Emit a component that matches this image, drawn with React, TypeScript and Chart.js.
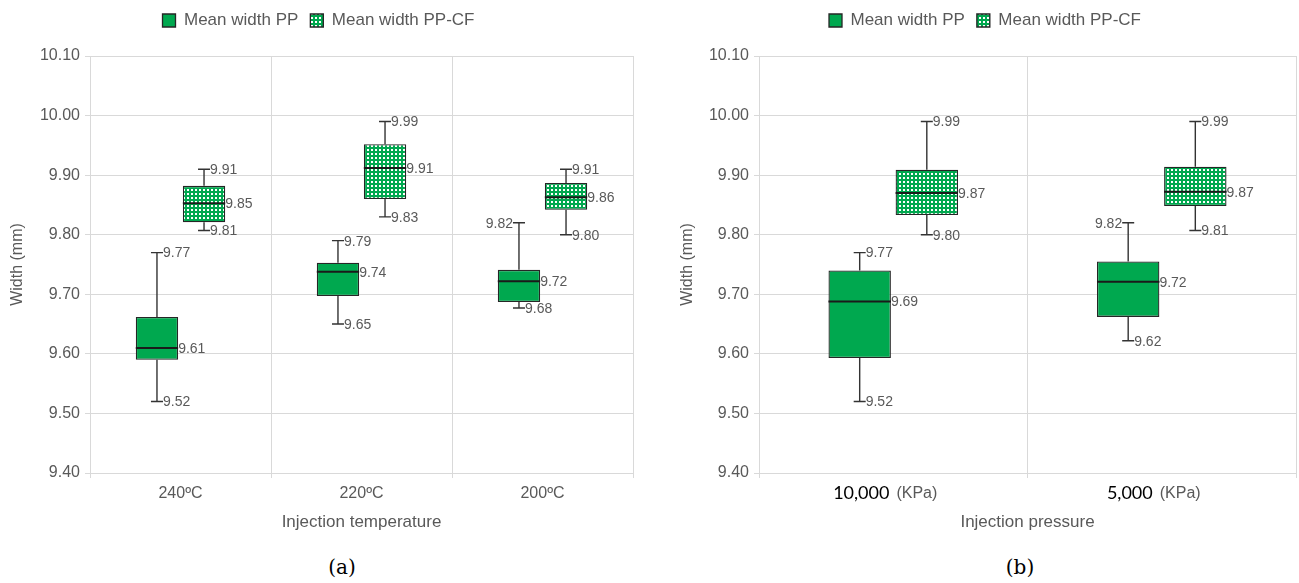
import React, { useEffect, useRef } from "react";
import { Chart, registerables } from "chart.js";

Chart.register(...registerables);

// ---------------- DATA ----------------
const seriesNames = ["Mean width PP", "Mean width PP-CF"];

// (a) Injection temperature
const tempCategories = ["240ºC", "220ºC", "200ºC"];
const tempPPMin = [9.52, 9.65, 9.677];
const tempPPQ1 = [9.59, 9.697, 9.687];
const tempPPMedian = [9.61, 9.738, 9.722];
const tempPPQ3 = [9.662, 9.753, 9.741];
const tempPPMax = [9.77, 9.79, 9.82];

const tempCFMin = [9.807, 9.83, 9.8];
const tempCFQ1 = [9.821, 9.86, 9.842];
const tempCFMedian = [9.853, 9.912, 9.863];
const tempCFQ3 = [9.882, 9.952, 9.887];
const tempCFMax = [9.91, 9.99, 9.91];

// (b) Injection pressure
const pressCategories = ["10,000", "5,000"];
const pressUnit = "(KPa)";
const pressPPMin = [9.52, 9.622];
const pressPPQ1 = [9.593, 9.662];
const pressPPMedian = [9.688, 9.721];
const pressPPQ3 = [9.74, 9.755];
const pressPPMax = [9.77, 9.82];

const pressCFMin = [9.8, 9.807];
const pressCFQ1 = [9.833, 9.848];
const pressCFMedian = [9.87, 9.872];
const pressCFQ3 = [9.909, 9.914];
const pressCFMax = [9.99, 9.99];

const yTickMin = 9.4;
const yTickMax = 10.1;
const yTickStep = 0.1;

// ---------------- STYLE ----------------
const GREEN = "#00a84f";
const BORDER = "#262626";
const TEXT = "#595959";
const GRID = "#d9d9d9";
const SANS = "'Liberation Sans', Arial, sans-serif";

type BoxSeries = {
  name: string;
  min: number[];
  q1: number[];
  median: number[];
  q3: number[];
  max: number[];
  patterned: boolean;
};

function makePattern(): CanvasPattern | string {
  const c = document.createElement("canvas");
  c.width = 4;
  c.height = 4;
  const g = c.getContext("2d");
  if (!g) return GREEN;
  g.fillStyle = GREEN;
  g.fillRect(0, 0, 4, 4);
  g.fillStyle = "#ffffff";
  g.fillRect(1, 1, 2, 2);
  return g.createPattern(c, "repeat") || GREEN;
}

type PanelProps = {
  categories: string[];
  series: BoxSeries[];
  xTitle: string;
  left: number;
  width: number;
  height: number;
  padLeft: number;
  padRight: number;
  yWidth: number;
  catPct: number;
  barPct: number;
  maxLabelLeft: boolean[][];
  unit?: string;
};

function BoxPanel(props: PanelProps) {
  const ref = useRef<HTMLCanvasElement | null>(null);
  useEffect(() => {
    const canvas = ref.current;
    if (!canvas) return;
    const pattern = makePattern();
    const customTicks = !!props.unit;

    const datasets = props.series.map((s) => ({
      label: s.name,
      data: s.q1.map((q, i) => [q, s.q3[i]]),
      backgroundColor: s.patterned ? pattern : GREEN,
      borderColor: BORDER,
      borderWidth: 1.3,
      borderSkipped: false as const,
      categoryPercentage: props.catPct,
      barPercentage: props.barPct,
    }));

    const boxPlugin = {
      id: "boxWhiskers",
      afterDatasetsDraw(chart: any) {
        const ctx = chart.ctx as CanvasRenderingContext2D;
        const y = chart.scales.y;
        props.series.forEach((s, di) => {
          const meta = chart.getDatasetMeta(di);
          meta.data.forEach((bar: any, i: number) => {
            const cx = bar.x;
            const hw = bar.width / 2;
            const yMin = y.getPixelForValue(s.min[i]);
            const yQ1 = y.getPixelForValue(s.q1[i]);
            const yMed = y.getPixelForValue(s.median[i]);
            const yQ3 = y.getPixelForValue(s.q3[i]);
            const yMax = y.getPixelForValue(s.max[i]);
            ctx.save();
            ctx.strokeStyle = "#333333";
            ctx.lineWidth = 1.4;
            ctx.beginPath();
            ctx.moveTo(cx, yQ3);
            ctx.lineTo(cx, yMax);
            ctx.moveTo(cx - 6, yMax);
            ctx.lineTo(cx + 6, yMax);
            ctx.moveTo(cx, yQ1);
            ctx.lineTo(cx, yMin);
            ctx.moveTo(cx - 6, yMin);
            ctx.lineTo(cx + 6, yMin);
            ctx.stroke();
            ctx.strokeStyle = "#1a1a1a";
            ctx.lineWidth = 2;
            ctx.beginPath();
            ctx.moveTo(cx - hw, yMed);
            ctx.lineTo(cx + hw, yMed);
            ctx.stroke();

            ctx.fillStyle = TEXT;
            ctx.font = `14px ${SANS}`;
            ctx.textBaseline = "middle";
            const leftMax = props.maxLabelLeft[di][i];
            if (leftMax) {
              ctx.textAlign = "right";
              ctx.fillText(s.max[i].toFixed(2), cx - 6, yMax + 1);
            } else {
              ctx.textAlign = "left";
              ctx.fillText(s.max[i].toFixed(2), cx + 6, yMax + 1);
            }
            ctx.textAlign = "left";
            ctx.fillText(s.median[i].toFixed(2), cx + hw, yMed + 1);
            ctx.fillText(s.min[i].toFixed(2), cx + 6, yMin + 1);
            ctx.restore();
          });
        });
      },
      afterDraw(chart: any) {
        if (!customTicks) return;
        const ctx = chart.ctx as CanvasRenderingContext2D;
        const x = chart.scales.x;
        const yPos = chart.chartArea.bottom + 20;
        ctx.save();
        ctx.textBaseline = "middle";
        ctx.textAlign = "left";
        props.categories.forEach((c, i) => {
          const cx = x.getPixelForValue(i) - 8;
          const numFont = `18px Lato, 'Open Sans', sans-serif`;
          const unitFont = `16px ${SANS}`;
          ctx.font = numFont;
          const w1 = ctx.measureText(c).width;
          ctx.font = unitFont;
          const gap = 7;
          const w2 = ctx.measureText(props.unit || "").width;
          const start = cx - (w1 + gap + w2) / 2;
          ctx.font = numFont;
          ctx.fillStyle = "#000000";
          ctx.fillText(c, start, yPos);
          ctx.font = unitFont;
          ctx.fillStyle = TEXT;
          ctx.fillText(props.unit || "", start + w1 + gap, yPos + 1);
        });
        ctx.restore();
      },
    };

    const legendSpacer = {
      id: "legendSpacer",
      beforeLayout(chart: any) {
        const lg = chart.legend;
        if (lg && !lg.__spaced) {
          const orig = lg.fit.bind(lg);
          lg.fit = function () {
            orig();
            this.height += 17;
          };
          lg.__spaced = true;
        }
      },
    };

    const chart = new Chart(canvas, {
      type: "bar",
      data: { labels: props.categories, datasets: datasets as any },
      plugins: [legendSpacer, boxPlugin],
      options: {
        animation: false,
        responsive: false,
        maintainAspectRatio: false,
        layout: {
          padding: { top: 0, left: props.padLeft, right: props.padRight, bottom: 0 },
        },
        plugins: {
          tooltip: { enabled: false },
          legend: {
            position: "top",
            labels: {
              boxWidth: 13,
              boxHeight: 13,
              padding: 12,
              color: TEXT,
              font: { family: SANS, size: 17 },
            },
          },
        },
        scales: {
          x: {
            grid: { color: GRID, lineWidth: 1, offset: true, tickLength: 5, drawTicks: true },
            border: { color: GRID },
            ticks: {
              color: customTicks ? "rgba(0,0,0,0)" : TEXT,
              font: { family: SANS, size: 16 },
              padding: 6,
            },
            title: {
              display: true,
              text: props.xTitle,
              color: TEXT,
              font: { family: SANS, size: 17 },
              padding: 4,
            },
            afterFit(scale: any) {
              scale.height = 64;
            },
          },
          y: {
            min: yTickMin,
            max: yTickMax,
            grid: { color: GRID, lineWidth: 1, tickLength: 5 },
            border: { color: GRID },
            ticks: {
              stepSize: yTickStep,
              color: TEXT,
              font: { family: SANS, size: 16 },
              padding: 5,
              callback: (v: any) => Number(v).toFixed(2),
            },
            title: {
              display: true,
              text: "Width (mm)",
              color: TEXT,
              font: { family: SANS, size: 16 },
              padding: 4,
            },
            afterFit(scale: any) {
              scale.width = props.yWidth;
            },
          },
        },
      } as any,
    });
    return () => chart.destroy();
  }, []);

  return (
    <canvas
      ref={ref}
      width={props.width}
      height={props.height}
      style={{ position: "absolute", left: props.left, top: 0, width: props.width, height: props.height }}
    />
  );
}

export default function App() {
  const tempSeries: BoxSeries[] = [
    { name: seriesNames[0], min: tempPPMin, q1: tempPPQ1, median: tempPPMedian, q3: tempPPQ3, max: tempPPMax, patterned: false },
    { name: seriesNames[1], min: tempCFMin, q1: tempCFQ1, median: tempCFMedian, q3: tempCFQ3, max: tempCFMax, patterned: true },
  ];
  const pressSeries: BoxSeries[] = [
    { name: seriesNames[0], min: pressPPMin, q1: pressPPQ1, median: pressPPMedian, q3: pressPPQ3, max: pressPPMax, patterned: false },
    { name: seriesNames[1], min: pressCFMin, q1: pressCFQ1, median: pressCFMedian, q3: pressCFQ3, max: pressCFMax, patterned: true },
  ];
  const capStyle: React.CSSProperties = {
    position: "absolute",
    top: 553,
    width: 60,
    textAlign: "center",
    fontFamily: "'DejaVu Serif', 'Liberation Serif', serif",
    fontSize: 20,
    color: "#000",
    lineHeight: "28px",
  };
  return (
    <div style={{ position: "fixed", left: 0, top: 0, width: 1299, height: 583, background: "#fff", overflow: "hidden" }}>
      <BoxPanel
        categories={tempCategories}
        series={tempSeries}
        xTitle="Injection temperature"
        left={-10}
        width={645}
        height={537}
        padLeft={14}
        padRight={2}
        yWidth={86}
        catPct={0.52}
        barPct={0.9}
        maxLabelLeft={[[false, false, true], [false, false, false]]}
      />
      <BoxPanel
        categories={pressCategories}
        series={pressSeries}
        xTitle="Injection pressure"
        left={674}
        width={625}
        height={537}
        padLeft={0}
        padRight={3}
        yWidth={85}
        catPct={0.5}
        barPct={0.93}
        maxLabelLeft={[[false, true], [false, false]]}
        unit={pressUnit}
      />
      <div style={{ ...capStyle, left: 312 }}>(a)</div>
      <div style={{ ...capStyle, left: 990 }}>(b)</div>
    </div>
  );
}
